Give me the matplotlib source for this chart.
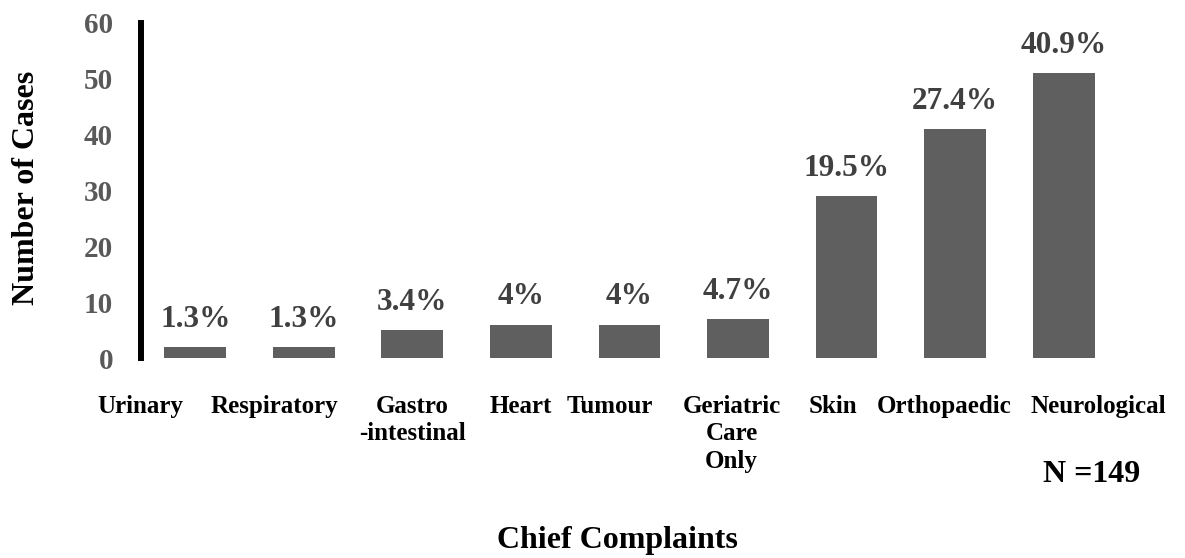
import matplotlib.pyplot as plt
import numpy as np

# data (N = 149)
categories = ['Urinary', 'Respiratory', 'Gastro\n-intestinal', 'Heart', 'Tumour',
              'Geriatric\nCare\nOnly', 'Skin', 'Orthopaedic', 'Neurological']
cases = [2, 2, 5, 6, 6, 7, 29, 41, 51]
pct_labels = ['1.3%', '1.3%', '3.4%', '4%', '4%', '4.7%', '19.5%', '27.4%', '40.9%']
yticks = [0, 10, 20, 30, 40, 50, 60]

# label nudges (Excel squeezed some category labels sideways)
label_shift = [-0.51, -0.27, 0.0, 0.0, -0.18, -0.06, -0.13, -0.10, 0.32]

plt.rcParams['font.family'] = ['Liberation Serif', 'DejaVu Serif']
plt.rcParams['font.weight'] = 'bold'

fig = plt.figure(figsize=(11.85, 5.58), dpi=100)
ax = fig.add_axes([0.119, 0.3584, 0.8244, 0.6004])

x = np.arange(len(categories))
bars = ax.bar(x, cases, width=0.57, color='#5f5f5f')

for b, lab in zip(bars, pct_labels):
    ax.annotate(lab, (b.get_x() + b.get_width() / 2, b.get_height()),
                xytext=(0, 9.5), textcoords='offset points', ha='center', va='bottom',
                fontsize=22.5, fontweight='bold', color='#404040')

ax.set_xlim(-0.5, 8.5)
ax.set_ylim(0, 60)
ax.set_yticks(yticks)
ax.set_yticklabels([str(t) for t in yticks], fontsize=21, fontweight='bold', color='#595959')
ax.tick_params(axis='y', length=0, pad=20)
ax.set_xticks([])
for s in ['top', 'right', 'bottom']:
    ax.spines[s].set_visible(False)
ax.spines['left'].set_linewidth(4.3)
ax.spines['left'].set_color('black')

# category labels below the plot
trans = ax.get_xaxis_transform()
for i, (cat, dx) in enumerate(zip(categories, label_shift)):
    ax.text(i + dx, -0.11, cat, transform=trans, ha='center', va='top',
            fontsize=18, fontweight='bold', color='black', linespacing=1.24)

fig.text(0.022, 0.664, 'Number of Cases', rotation=90, ha='center', va='center',
         fontsize=23, fontweight='bold')
fig.text(0.521, 0.032, 'Chief Complaints', ha='center', va='center',
         fontsize=23, fontweight='bold')
fig.text(0.9215, 0.149, 'N =149', ha='center', va='center',
         fontsize=23, fontweight='bold')

fig.savefig('out.png', dpi=100)
